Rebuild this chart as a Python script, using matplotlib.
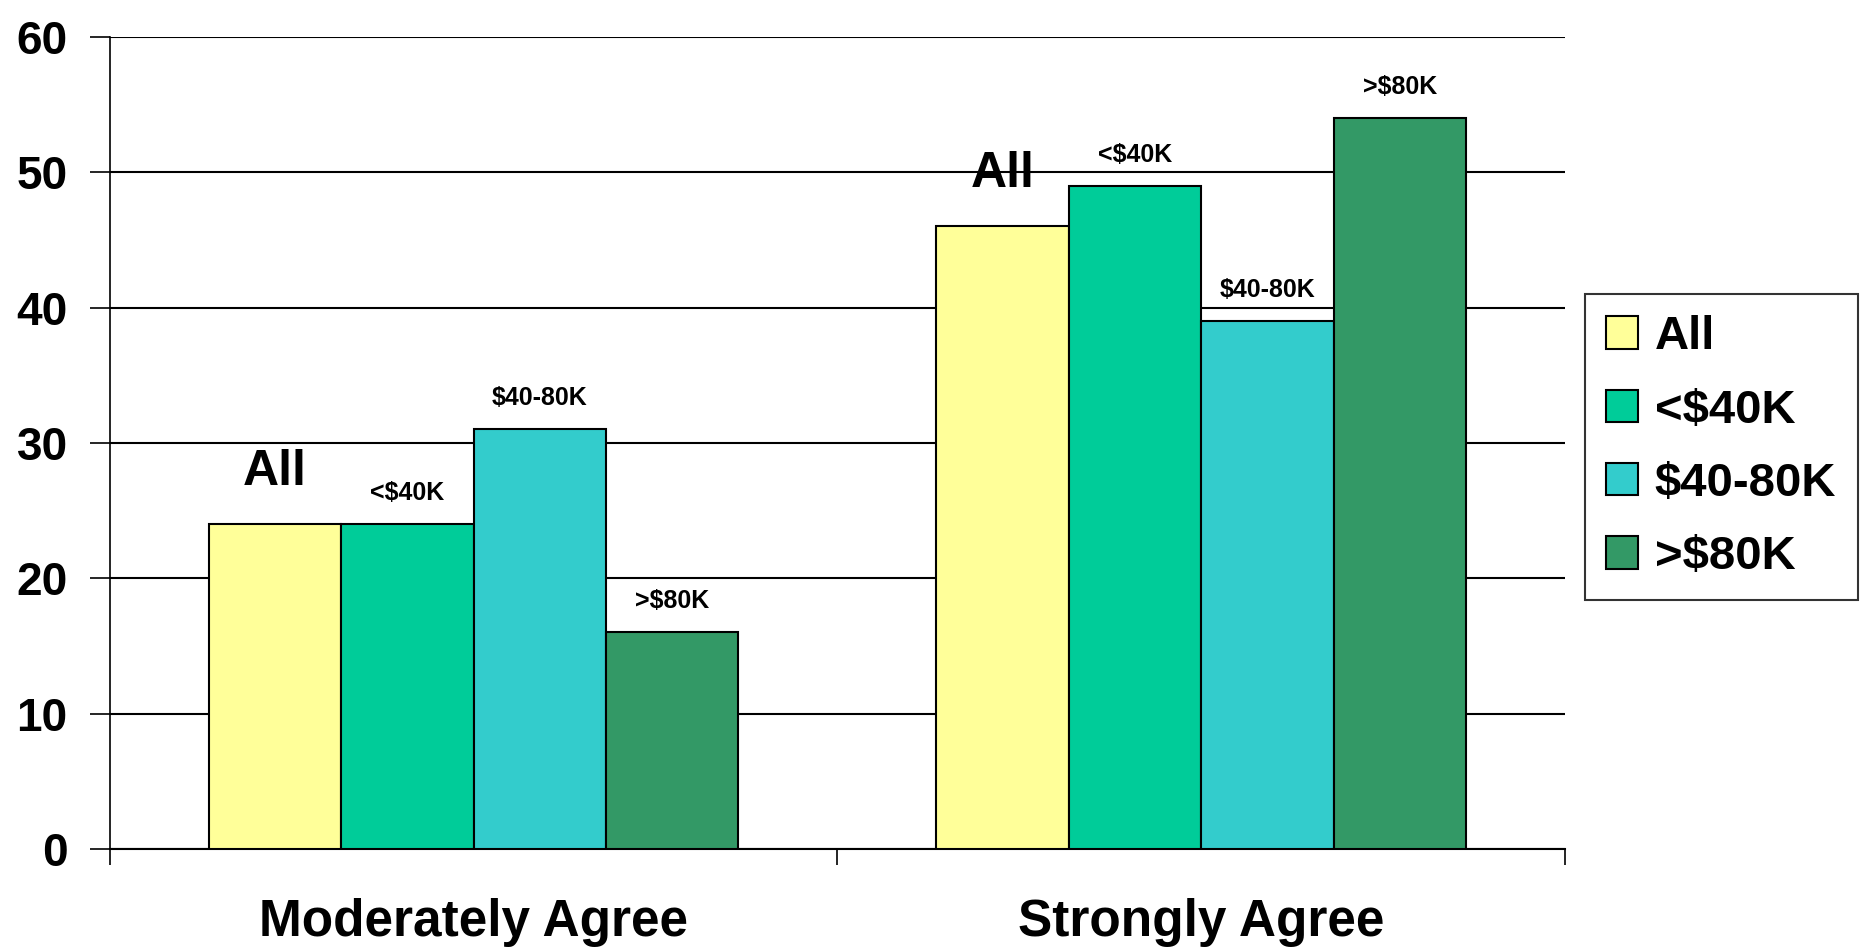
import numpy as np
import matplotlib.pyplot as plt
from matplotlib.ticker import FixedLocator

plt.rcParams['font.family'] = ['Liberation Sans', 'DejaVu Sans']
plt.rcParams['font.weight'] = 'bold'

# data
categories = ["Moderately Agree", "Strongly Agree"]
series_names = ["All", "<$40K", "$40-80K", ">$80K"]
values = [
    [24, 46],   # All
    [24, 49],   # <$40K
    [31, 39],   # $40-80K
    [16, 54],   # >$80K
]
colors = ["#FFFF99", "#00CC99", "#33CCCC", "#339966"]
y_ticks = [0, 10, 20, 30, 40, 50, 60]


def main():
    fig = plt.figure(figsize=(18.62, 9.48), dpi=100)
    ax = fig.add_axes([0.059, 0.1044, 0.7815, 0.8566])

    x = np.arange(len(categories))
    width = 0.182
    n = len(series_names)

    for i, (name, vals, col) in enumerate(zip(series_names, values, colors)):
        pos = x + (i - (n - 1) / 2) * width
        ax.bar(pos, vals, width, color=col, edgecolor='black', linewidth=1.5,
               label=name, zorder=3)
        # text above each bar; "All" is drawn bigger
        for px, v in zip(pos, vals):
            if name == "All":
                ax.annotate(name, (px, v), xytext=(0, 52), textcoords='offset pixels',
                            ha='center', va='center', fontsize=36, fontweight='bold',
                            zorder=4)
            else:
                ax.annotate(name, (px, v), xytext=(0, 31), textcoords='offset pixels',
                            ha='center', va='center', fontsize=18, fontweight='bold',
                            zorder=4)

    ax.set_xlim(-0.5, len(categories) - 0.5)
    ax.set_ylim(0, 60)
    ax.set_yticks(y_ticks)
    ax.set_xticks(x)
    ax.set_xticklabels(categories)
    ax.xaxis.set_minor_locator(FixedLocator([-0.5, 0.5, 1.5]))

    ax.tick_params(axis='y', direction='out', length=14.4, width=1.2, pad=16,
                   labelsize=33)
    ax.tick_params(axis='x', which='major', length=0, pad=35, labelsize=37)
    ax.tick_params(axis='x', which='minor', direction='out', length=11.5, width=1.2)
    for lab in ax.get_xticklabels() + ax.get_yticklabels():
        lab.set_fontweight('bold')

    ax.yaxis.grid(True, color='black', linewidth=1.5)
    ax.set_axisbelow(True)
    ax.spines['top'].set_visible(False)
    ax.spines['right'].set_visible(False)
    ax.spines['left'].set_linewidth(1.2)
    ax.spines['bottom'].set_linewidth(1.5)

    leg = fig.legend(loc='upper left', bbox_to_anchor=(1585 / 1862, 1 - 294 / 948),
                     borderaxespad=0, fontsize=34, frameon=True, fancybox=False,
                     edgecolor='black', handlelength=0.68, handleheight=0.68,
                     handletextpad=0.35, labelspacing=0.62, borderpad=0.45)
    leg.get_frame().set_linewidth(1.5)
    for t in leg.get_texts():
        t.set_fontweight('bold')

    fig.savefig('out.png', dpi=100)


if __name__ == '__main__':
    main()
